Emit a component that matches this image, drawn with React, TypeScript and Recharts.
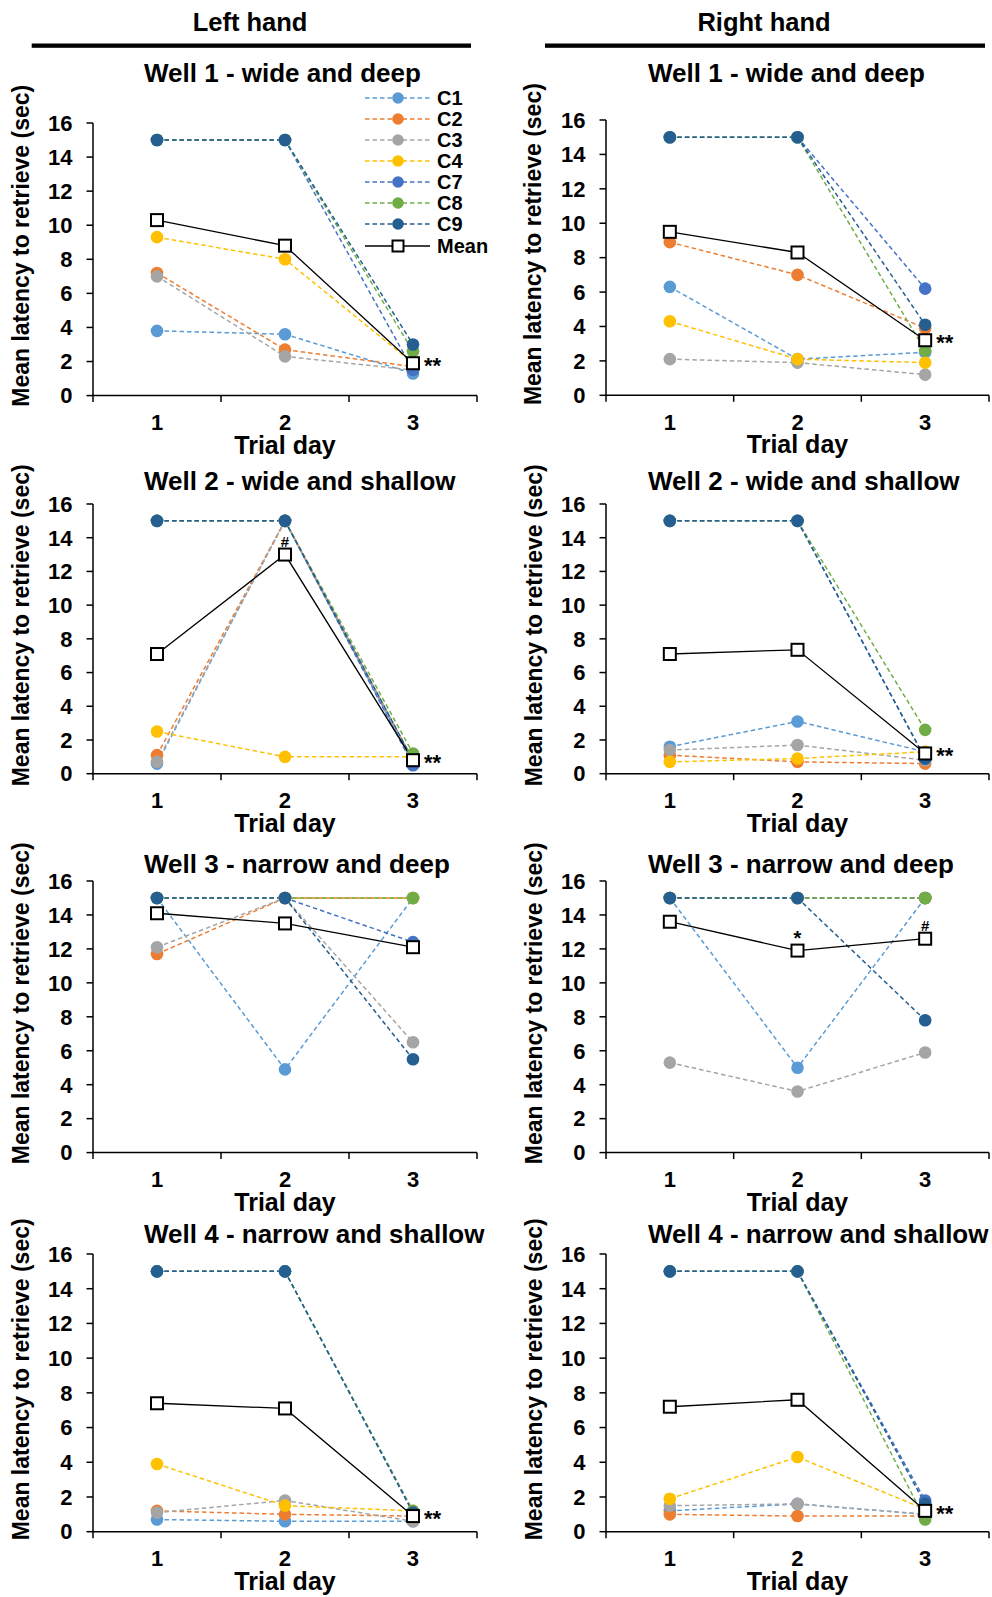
import React from 'react';
import { LineChart, Line, XAxis, YAxis, Label, Legend } from 'recharts';

const days = [1, 2, 3];
const cowNames = ['C1', 'C2', 'C3', 'C4', 'C7', 'C8', 'C9'];
const cowColors = ['#5B9BD5', '#ED7D31', '#A5A5A5', '#FFC000', '#4472C4', '#70AD47', '#255E91'];
const yTicks = [0, 2, 4, 6, 8, 10, 12, 14, 16];
// half steps carry the tick marks between categories, whole steps carry the day labels
const xTicks = [0.5, 1, 1.5, 2, 2.5, 3, 3.5];
const handTitles = ['Left hand', 'Right hand'];
const wellTitles = [
  'Well 1 - wide and deep',
  'Well 2 - wide and shallow',
  'Well 3 - narrow and deep',
  'Well 4 - narrow and shallow',
];

// each row is one animal (C1, C2, C3, C4, C7, C8, C9), columns are trial days 1-3
const leftWell1 = [
  [3.8, 3.6, 1.3],
  [7.2, 2.7, 1.7],
  [7.0, 2.3, 1.5],
  [9.3, 8.0, 1.9],
  [15, 15, 1.5],
  [15, 15, 2.6],
  [15, 15, 3.0],
];
const leftWell1Mean = [10.3, 8.8, 1.9];
const leftWell1Marks = ['', '', '**'];

const rightWell1 = [
  [6.3, 2.1, 2.5],
  [8.9, 7.0, 3.9],
  [2.1, 1.9, 1.2],
  [4.3, 2.1, 1.9],
  [15, 15, 6.2],
  [15, 15, 2.6],
  [15, 15, 4.1],
];
const rightWell1Mean = [9.5, 8.3, 3.2];
const rightWell1Marks = ['', '', '**'];

const leftWell2 = [
  [0.6, 15, 0.6],
  [1.1, 15, 0.8],
  [0.7, 15, 0.8],
  [2.5, 1.0, 1.0],
  [15, 15, 0.5],
  [15, 15, 1.2],
  [15, 15, 0.8],
];
const leftWell2Mean = [7.1, 13.0, 0.8];
const leftWell2Marks = ['', '#', '**'];

const rightWell2 = [
  [1.6, 3.1, 1.3],
  [1.1, 0.7, 0.6],
  [1.4, 1.7, 0.8],
  [0.7, 0.9, 1.3],
  [15, 15, 0.9],
  [15, 15, 2.6],
  [15, 15, 0.9],
];
const rightWell2Mean = [7.1, 7.35, 1.2];
const rightWell2Marks = ['', '', '**'];

const leftWell3 = [
  [15, 4.9, 15],
  [11.7, 15, 15],
  [12.1, 15, 6.5],
  [15, 15, 15],
  [15, 15, 12.4],
  [15, 15, 15],
  [15, 15, 5.5],
];
const leftWell3Mean = [14.1, 13.5, 12.1];
const leftWell3Marks = ['', '', ''];

const rightWell3 = [
  [15, 5.0, 15],
  [15, 15, 15],
  [5.3, 3.6, 5.9],
  [15, 15, 15],
  [15, 15, 15],
  [15, 15, 15],
  [15, 15, 7.8],
];
const rightWell3Mean = [13.6, 11.9, 12.6];
const rightWell3Marks = ['', '*', '#'];

const leftWell4 = [
  [0.7, 0.6, 0.6],
  [1.2, 1.0, 0.9],
  [1.1, 1.8, 0.6],
  [3.9, 1.5, 1.2],
  [15, 15, 1.1],
  [15, 15, 1.2],
  [15, 15, 1.1],
];
const leftWell4Mean = [7.4, 7.1, 0.9];
const leftWell4Marks = ['', '', '**'];

const rightWell4 = [
  [1.2, 1.6, 1.0],
  [1.0, 0.9, 0.9],
  [1.5, 1.6, 1.0],
  [1.9, 4.3, 1.3],
  [15, 15, 1.8],
  [15, 15, 0.7],
  [15, 15, 1.6],
];
const rightWell4Mean = [7.2, 7.6, 1.2];
const rightWell4Marks = ['', '', '**'];

const panels = [
  { col: 0, row: 0, cows: leftWell1, mean: leftWell1Mean, marks: leftWell1Marks },
  { col: 1, row: 0, cows: rightWell1, mean: rightWell1Mean, marks: rightWell1Marks },
  { col: 0, row: 1, cows: leftWell2, mean: leftWell2Mean, marks: leftWell2Marks },
  { col: 1, row: 1, cows: rightWell2, mean: rightWell2Mean, marks: rightWell2Marks },
  { col: 0, row: 2, cows: leftWell3, mean: leftWell3Mean, marks: leftWell3Marks },
  { col: 1, row: 2, cows: rightWell3, mean: rightWell3Mean, marks: rightWell3Marks },
  { col: 0, row: 3, cows: leftWell4, mean: leftWell4Mean, marks: leftWell4Marks },
  { col: 1, row: 3, cows: rightWell4, mean: rightWell4Mean, marks: rightWell4Marks },
];

// layout (page pixels)
const FONT = '"Liberation Sans", Arial, Helvetica, sans-serif';
const colLeft = [0, 496];
const colAxisW = [93, 110];
const colRight = [19, 3];
const plotTops = [[122.7, 120], [504, 504], [880.7, 880.7], [1254, 1254]];
const plotBottoms = [395.3, 773.7, 1152.3, 1531.7];
const titleBaselines = [81.7, 489.5, 872.7, 1243];
const titleStarts = [144, 648];
const TOP_PAD = 50;
const X_AXIS_H = 70;
const DASH = '4.5 3';

function buildRows(cows: number[][], mean: number[], marks: string[]) {
  return days.map((day, i) => {
    const row: Record<string, number | string> = { day, Mean: mean[i], mark: marks[i] };
    cowNames.forEach((n, k) => {
      row[n] = cows[k][i];
    });
    return row;
  });
}

function DayTick(props: any) {
  const { x, y, payload } = props;
  const v = payload.value;
  if (Number.isInteger(v)) {
    return (
      <text x={x} y={y + 34.5} textAnchor="middle" fontSize={22} fontWeight="bold" fill="#000">
        {v}
      </text>
    );
  }
  return <line x1={x} x2={x} y1={y} y2={y + 6.5} stroke="#000" strokeWidth={1.5} />;
}

function MeanDot(props: any) {
  const { cx, cy, payload, index } = props;
  const mark = payload ? payload.mark : '';
  return (
    <g key={`mean-${index}`}>
      <rect x={cx - 6} y={cy - 6} width={12} height={12} fill="#fff" stroke="#000" strokeWidth={2} />
      {mark === '**' && (
        <text x={cx + 11} y={cy + 10} fontSize={22} fontWeight="bold" fill="#000">
          **
        </text>
      )}
      {mark === '*' && (
        <text x={cx} y={cy - 6} textAnchor="middle" fontSize={20} fontWeight="bold" fill="#000">
          *
        </text>
      )}
      {mark === '#' && (
        <text x={cx} y={cy - 8} textAnchor="middle" fontSize={15} fontWeight="bold" fill="#000">
          #
        </text>
      )}
    </g>
  );
}

function LegendBox() {
  const rowH = 21;
  return (
    <svg width={140} height={180} style={{ display: 'block', overflow: 'visible' }}>
      {cowNames.map((name, i) => {
        const cy = 10 + i * rowH;
        return (
          <g key={name}>
            <line x1={5} x2={70} y1={cy} y2={cy} stroke={cowColors[i]} strokeWidth={1.5} strokeDasharray={DASH} />
            <circle cx={38} cy={cy} r={5.8} fill={cowColors[i]} />
            <text x={77} y={cy + 7.2} fontSize={20} fontWeight="bold" fill="#000">
              {name}
            </text>
          </g>
        );
      })}
      <g>
        <line x1={5} x2={70} y1={10 + 7 * rowH + 1} y2={10 + 7 * rowH + 1} stroke="#000" strokeWidth={1.3} />
        <rect x={32.5} y={10 + 7 * rowH - 4.5} width={11} height={11} fill="#fff" stroke="#000" strokeWidth={2} />
        <text x={77} y={10 + 7 * rowH + 8.2} fontSize={20} fontWeight="bold" fill="#000">
          Mean
        </text>
      </g>
    </svg>
  );
}

function Panel({ col, row, cows, mean, marks }: any) {
  const top = plotTops[row][col];
  const bottom = plotBottoms[row];
  const plotH = bottom - top;
  const mt = TOP_PAD;
  const chartTop = top - mt;
  const height = mt + plotH + X_AXIS_H;
  const axisW = colAxisW[col];
  const plotW = 496 - axisW - colRight[col];
  const data = buildRows(cows, mean, marks);

  const yLabel = () => {
    const cx = axisW - 64.5;
    const cy = mt + plotH / 2 - 13.5;
    return (
      <text
        x={cx}
        y={cy}
        transform={`rotate(-90, ${cx}, ${cy})`}
        textAnchor="middle"
        fontSize={23}
        fontWeight="bold"
        fill="#000"
      >
        Mean latency to retrieve (sec)
      </text>
    );
  };

  const xLabel = () => (
    <text x={axisW + plotW / 2} y={mt + plotH + 58} textAnchor="middle" fontSize={25} fontWeight="bold" fill="#000">
      Trial day
    </text>
  );

  return (
    <div style={{ position: 'absolute', left: colLeft[col], top: chartTop }}>
      <LineChart width={496} height={height} data={data} margin={{ top: mt, right: colRight[col], bottom: 0, left: 0 }}>
        <XAxis
          dataKey="day"
          type="number"
          domain={[0.5, 3.5]}
          ticks={xTicks}
          interval={0}
          allowDataOverflow
          tick={<DayTick />}
          tickLine={false}
          tickSize={0}
          tickMargin={0}
          axisLine={{ stroke: '#000', strokeWidth: 1.5 }}
          height={X_AXIS_H}
        >
          <Label content={xLabel} />
        </XAxis>
        <YAxis
          type="number"
          domain={[0, 16]}
          ticks={yTicks}
          interval={0}
          width={axisW}
          tickSize={6.5}
          tickMargin={14}
          tick={{ fontSize: 22, fontWeight: 'bold', fill: '#000' }}
          tickLine={{ stroke: '#000', strokeWidth: 1.5 }}
          axisLine={{ stroke: '#000', strokeWidth: 1.5 }}
        >
          <Label content={yLabel} />
        </YAxis>
        {cowNames.map((name, i) => (
          <Line
            key={name}
            type="linear"
            dataKey={name}
            stroke={cowColors[i]}
            strokeWidth={1.5}
            strokeDasharray={DASH}
            isAnimationActive={false}
            activeDot={false}
            dot={(p: any) => <circle key={`${name}-${p.index}`} cx={p.cx} cy={p.cy} r={6.3} fill={cowColors[i]} />}
          />
        ))}
        <Line
          type="linear"
          dataKey="Mean"
          stroke="#000"
          strokeWidth={1.3}
          isAnimationActive={false}
          activeDot={false}
          dot={(p: any) => <MeanDot key={`mean-${p.index}`} {...p} />}
        />
        {row === 0 && col === 0 && (
          <Legend
            layout="vertical"
            align="center"
            verticalAlign="middle"
            content={() => <LegendBox />}
            wrapperStyle={{ left: 360, top: 88.3 - chartTop, width: 140, height: 180 }}
          />
        )}
      </LineChart>
    </div>
  );
}

export default function App() {
  return (
    <div
      style={{
        position: 'absolute',
        left: 0,
        top: 0,
        width: 992,
        height: 1597,
        background: '#fff',
        fontFamily: FONT,
      }}
    >
      <svg width={992} height={1597} style={{ position: 'absolute', left: 0, top: 0 }}>
        <text x={250} y={30.7} textAnchor="middle" fontSize={25.5} fontWeight="bold" fill="#000">
          {handTitles[0]}
        </text>
        <rect x={31.7} y={43.5} width={439.3} height={4.3} fill="#000" />
        <text x={764} y={30.7} textAnchor="middle" fontSize={25.5} fontWeight="bold" fill="#000">
          {handTitles[1]}
        </text>
        <rect x={545} y={43.5} width={440} height={4.3} fill="#000" />
        {wellTitles.map((t, r) =>
          titleStarts.map((x0, c) => (
            <text key={`${r}-${c}`} x={x0} y={titleBaselines[r]} fontSize={26} fontWeight="bold" fill="#000">
              {t}
            </text>
          ))
        )}
      </svg>
      {panels.map((p) => (
        <Panel key={`${p.row}-${p.col}`} {...p} />
      ))}
    </div>
  );
}
